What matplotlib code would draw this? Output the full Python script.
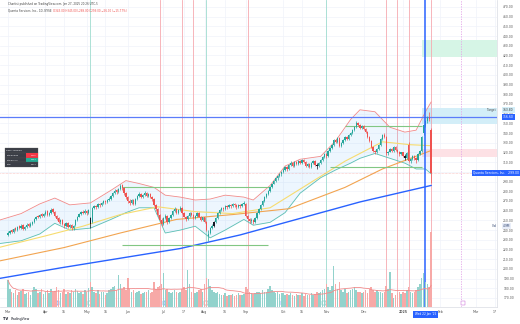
import numpy as np
import pandas as pd
import matplotlib
matplotlib.use("Agg")
import matplotlib.pyplot as plt
import matplotlib.transforms as mtransforms
from matplotlib.patches import Rectangle

# daily sessions, 1 Mar 2024 (index 0) .. 27 Jan 2025 (index 226)
opens = [
    235, 237, 240, 238, 242, 240, 244, 242, 245, 241, 243, 246, 244, 246, 248, 251, 255, 253, 257, 255,
    257, 260, 256, 258, 262, 259, 255, 252, 248, 250, 246, 244, 247, 243, 245, 242, 245, 250, 254, 257, 259, 258,
    260, 258, 252, 248, 263, 265, 264, 267, 266, 268, 270, 269, 271, 272, 275, 278, 281, 279, 282, 286, 283, 278,
    274, 270, 268, 271, 267, 272, 275, 277, 274, 276, 278, 275, 277, 274, 272, 266, 262, 256, 250,
    246, 252, 255, 248, 252, 256, 260, 262, 258, 261, 263, 258, 254, 251, 255, 258, 256, 252, 255, 258, 254, 250,
    253, 248, 234, 237, 242, 244, 248, 252, 258, 261, 263, 262, 265, 264, 266, 265, 267, 266, 264, 266, 265, 267,
    267, 255, 251, 249, 250, 248, 252, 258, 262, 266, 270, 274, 277, 280, 284, 288, 291, 294, 296, 298,
    300, 302, 305, 303, 307, 309, 306, 310, 308, 311, 309, 312, 310, 306, 308, 305, 309, 311, 307, 306, 309, 312, 315,
    318, 316, 322, 325, 328, 333, 331, 335, 327, 330, 333, 336, 334, 338, 340, 343, 346, 350, 348, 345,
    347, 344, 341, 336, 332, 326, 322, 320, 324, 328, 334, 338, 336, 319, 321, 324, 322, 326, 323, 321, 318,
    320, 316, 314, 328, 311, 313, 316, 314, 312, 318, 322, 340, 348, 352, 356, 343,
]
highs = [
    239, 240, 241, 242, 243, 244, 245, 246, 246, 244, 247, 247, 248, 249, 252, 255, 256, 257, 258, 258,
    261, 261, 259, 263, 263, 260, 256, 253, 251, 251, 247, 248, 248, 246, 246, 245, 251, 255, 258, 260, 261, 262,
    261, 262, 254, 264, 266, 266, 268, 268, 269, 271, 271, 272, 274, 276, 279, 282, 282, 283, 287, 287, 284, 279,
    275, 272, 272, 272, 273, 276, 279, 278, 277, 280, 279, 278, 278, 275, 273, 267, 263, 257, 252,
    253, 257, 256, 253, 257, 261, 264, 263, 262, 265, 264, 259, 255, 256, 259, 259, 257, 256, 259, 259, 255, 254,
    254, 249, 240, 243, 246, 249, 253, 259, 262, 264, 264, 266, 266, 267, 267, 268, 268, 267, 267, 267, 268, 270,
    268, 256, 252, 252, 251, 253, 259, 263, 267, 271, 275, 278, 281, 285, 289, 292, 295, 297, 299, 301,
    304, 306, 306, 308, 311, 310, 311, 311, 312, 312, 313, 313, 311, 309, 309, 310, 312, 312, 309, 310, 313, 316, 319,
    319, 323, 326, 329, 334, 334, 336, 336, 331, 334, 337, 337, 339, 341, 344, 347, 352, 351, 349, 348,
    348, 345, 342, 337, 333, 327, 323, 325, 329, 335, 339, 340, 337, 322, 325, 325, 327, 327, 324, 322, 321,
    321, 318, 320, 331, 314, 317, 317, 315, 319, 323, 337, 349, 354, 358, 362, 345,
]
lows = [
    234, 236, 237, 237, 239, 239, 241, 241, 240, 240, 242, 243, 243, 245, 247, 250, 252, 252, 254, 254,
    256, 255, 255, 257, 258, 254, 250, 247, 246, 245, 242, 243, 242, 242, 240, 240, 244, 249, 253, 256, 257, 257,
    256, 257, 242, 247, 262, 262, 263, 264, 265, 267, 267, 268, 270, 271, 274, 277, 277, 278, 281, 281, 276, 272,
    268, 266, 267, 266, 266, 271, 274, 273, 273, 275, 274, 274, 273, 270, 265, 260, 254, 248, 244,
    245, 251, 246, 247, 251, 255, 259, 257, 257, 260, 257, 253, 249, 250, 254, 255, 251, 251, 254, 253, 249, 249,
    247, 239, 229, 236, 241, 243, 247, 251, 257, 260, 260, 261, 262, 263, 263, 264, 264, 262, 263, 263, 264, 266,
    253, 249, 247, 247, 246, 247, 251, 257, 261, 265, 269, 273, 276, 279, 283, 287, 290, 292, 295, 296,
    299, 301, 301, 302, 306, 305, 305, 307, 307, 308, 308, 309, 305, 305, 304, 304, 308, 306, 303, 305, 308, 311, 314,
    314, 315, 321, 324, 327, 330, 330, 326, 326, 329, 332, 333, 333, 337, 339, 342, 345, 347, 344, 344,
    343, 340, 335, 331, 325, 321, 318, 319, 323, 327, 333, 335, 317, 317, 320, 320, 321, 322, 319, 316, 317,
    315, 312, 313, 310, 309, 312, 312, 309, 311, 317, 321, 338, 346, 350, 352, 289,
]
closes = [
    237, 239, 238, 241, 240, 243, 242, 244, 241, 243, 245, 244, 246, 248, 251, 254, 253, 256, 255, 257,
    259, 256, 258, 261, 259, 255, 251, 248, 250, 246, 244, 247, 243, 245, 242, 244, 250, 254, 257, 259, 258, 260,
    258, 261, 246, 263, 265, 264, 267, 266, 268, 270, 269, 271, 272, 275, 278, 280, 279, 282, 285, 283, 278, 274,
    270, 268, 271, 267, 272, 275, 277, 274, 276, 278, 275, 277, 274, 272, 266, 262, 256, 250, 246,
    252, 255, 248, 252, 256, 260, 262, 258, 261, 263, 258, 254, 251, 255, 258, 256, 252, 255, 258, 254, 250, 253,
    248, 240, 236, 242, 244, 248, 252, 258, 261, 263, 262, 265, 264, 266, 265, 267, 266, 264, 266, 265, 267, 268,
    255, 251, 249, 250, 248, 252, 258, 262, 266, 270, 274, 277, 280, 284, 288, 291, 294, 296, 298, 300,
    302, 305, 303, 307, 309, 306, 310, 308, 311, 309, 312, 310, 306, 308, 305, 309, 311, 307, 306, 309, 312, 315, 318,
    316, 322, 325, 328, 333, 331, 335, 327, 330, 333, 336, 334, 338, 340, 343, 346, 350, 348, 345, 347,
    344, 341, 336, 332, 326, 322, 320, 324, 328, 334, 338, 336, 319, 321, 324, 322, 326, 323, 321, 318, 320,
    316, 314, 319, 311, 313, 316, 314, 312, 318, 322, 336, 348, 352, 356, 355, 299,
]
# volume, millions of shares
volumes = [
    1.75, 1.2, 1.0, 0.9, 1.1, 0.8, 0.95, 1.05, 1.2, 0.85, 0.9, 1.0, 0.8, 1.1, 1.3, 1.2, 0.9, 1.0, 1.15, 0.85,
    1.0, 1.1, 0.9, 1.2, 0.95, 1.05, 1.3, 1.1, 0.9, 1.0, 1.2, 0.85, 1.0, 0.9, 1.1, 0.95, 1.2, 1.05, 0.9, 1.0, 0.85, 1.1,
    1.0, 1.25, 1.6, 1.3, 1.0, 0.9, 1.1, 0.85, 0.95, 1.0, 0.8, 0.9, 1.1, 1.2, 1.3, 1.4, 1.1, 2.1, 1.5, 1.2, 1.3, 1.1,
    1.9, 1.2, 1.0, 1.1, 0.9, 1.0, 1.05, 0.85, 0.9, 1.0, 0.95, 1.1, 0.9, 1.0, 1.6, 1.2, 1.3, 1.4, 1.5,
    2.2, 1.1, 1.2, 1.0, 0.9, 1.0, 1.1, 0.95, 0.9, 1.0, 1.2, 1.3, 1.1, 2.4, 1.5, 1.0, 1.2, 0.9, 1.0, 1.1, 1.2, 1.0,
    1.5, 1.9, 1.8, 1.4, 1.1, 1.0, 0.9, 0.95, 0.85, 0.8, 0.75, 0.9, 0.7, 0.8, 0.75, 0.85, 0.7, 0.8, 0.9, 0.75, 0.8, 0.85,
    1.3, 1.2, 1.0, 0.9, 0.85, 0.9, 0.95, 1.0, 0.9, 1.1, 1.0, 0.95, 1.2, 1.4, 1.1, 1.0, 0.9, 1.0, 0.85, 0.9,
    0.9, 0.8, 0.85, 0.75, 0.9, 0.8, 0.7, 0.85, 0.75, 0.8, 0.9, 0.7, 0.85, 0.8, 0.75, 0.9, 0.8, 0.85, 0.95, 0.9, 1.0, 1.1, 1.2,
    1.5, 1.3, 1.1, 1.4, 2.7, 1.5, 1.2, 1.6, 1.1, 1.0, 1.2, 0.9, 1.0, 1.1, 1.2, 1.3, 1.1, 1.0, 0.95, 0.9,
    1.0, 1.1, 0.9, 1.2, 1.3, 1.1, 1.0, 1.1, 0.95, 1.0, 0.9, 1.0, 1.4, 1.2, 2.3, 0.9, 0.6, 0.8, 0.9, 1.0, 0.85,
    1.0, 0.9, 1.1, 1.3, 1.0, 0.9, 1.0, 1.1, 1.3, 1.5, 1.9, 2.2, 1.6, 1.5, 1.3, 4.9,
]
black_bars = [44, 110, 165, 212]

# indicator lines as (bar index, price) points
sma200_idx = [-5, 28, 60, 92, 124, 156, 188, 226]
sma200_val = [190, 201, 211, 221, 235, 252, 269, 286]
sma_fast_idx = [-5, 20, 40, 60, 80, 100, 120, 140, 160, 180, 200, 215, 226]
sma_fast_val = [222, 234, 244, 256, 264, 259, 257, 263, 287, 311, 331, 328, 327]
sma_slow_idx = [-5, 30, 60, 90, 120, 150, 180, 200, 226]
sma_slow_val = [208, 222, 237, 251, 256, 262, 284, 303, 322]
bb_idx = [-5, 7, 17, 25, 33, 44, 55, 63, 70, 78, 84, 92, 100, 108, 116, 126, 131, 140, 148, 156,
          167, 175, 183, 188, 196, 204, 212, 218, 223, 226]
bb_upper = [250, 257, 267, 273, 266, 268, 281, 291, 288, 284, 276, 274, 271, 272, 276, 274, 271, 286, 306, 313,
            316, 332, 354, 364, 362, 346, 341, 343, 362, 372]
bb_lower = [226, 229, 236, 247, 240, 242, 251, 258, 263, 263, 237, 240, 244, 232, 240, 251, 245, 248, 258, 278,
            294, 302, 309, 314, 319, 314, 309, 303, 303, 298]

# drawings
vlines_pink = [81, 93, 99, 128, 202, 208, 214, 226]
vlines_teal = [44, 106, 170]
vline_blue = 223
vline_purple = 242
hline_blue = 356.6
green_levels = [(61, 140, 284.4), (61, 139, 224.6), (180, 221, 347.3), (172, 221, 305.0)]
zones = [(221, 436.0, 418.4, "#d6f5e6"), (221, 365.9, 349.4, "#d3eef8"), (221, 323.6, 315.3, "#fde1e5")]
div_idx = [26, 84, 147, 211]
earn_idx = [44, 106, 169]
next_earn_idx = [243]

tick_pos = [0, 20, 30, 42, 52, 64, 83, 94, 105, 116, 127, 147, 157, 170, 190, 211, 231, 250, 260]
tick_lbl = ["Mar", "Apr", "15", "May", "15", "Jun", "Jul", "17", "Aug", "16", "Sep", "Oct", "15",
            "Nov", "Dec", "2025", "Feb", "Mar", "17"]
price_ticks = list(range(170, 471, 10))

UP, DOWN = "#26a69a", "#ef5350"

o = np.array(opens, float)
h = np.array(highs, float)
l = np.array(lows, float)
c = np.array(closes, float)
v = np.array(volumes, float)
x = np.arange(len(c))

fig = plt.figure(figsize=(5.2, 3.24), dpi=100)
fig.patch.set_facecolor("white")
ax = fig.add_axes([0, 17 / 324, 497 / 520, 307 / 324])
ax.set_xlim(-4.27, 261.2)
ax.set_ylim(160.7, 477.2)

for p in price_ticks:
    ax.axhline(p, color="#f0f3fa", lw=0.5, zorder=0)
for t in tick_pos:
    ax.axvline(t, color="#f0f3fa", lw=0.5, zorder=0)

# zones on the right
for start, top, bottom, col in zones:
    ax.add_patch(Rectangle((start, bottom), 262 - start, top - bottom, facecolor=col,
                           edgecolor="none", zorder=1))

# vertical markers
for t in vlines_pink:
    ax.axvline(t, color="#f6aab0", lw=0.6, zorder=2)
for t in vlines_teal:
    ax.axvline(t, color="#9fdccf", lw=0.6, zorder=2)
ax.axvline(vline_purple, color="#e3a6e8", lw=0.6, ls=(0, (1.5, 1.5)), zorder=2)

# bollinger bands
ax.fill_between(bb_idx, bb_lower, bb_upper, color="#2196f3", alpha=0.08, lw=0, zorder=2)
ax.plot(bb_idx, bb_upper, color="#f08a8a", lw=0.6, zorder=3)
ax.plot(bb_idx, bb_lower, color="#5cbfb3", lw=0.6, zorder=3)

# moving averages
ax.plot(sma_slow_idx, sma_slow_val, color="#f2a450", lw=0.8, zorder=3)
ax.plot(sma_fast_idx, sma_fast_val, color="#f7dc6f", lw=0.8, zorder=3)
ax.plot(sma200_idx, sma200_val, color="#2962ff", lw=1.0, zorder=3)

# level lines
for a, b, lvl in green_levels:
    ax.hlines(lvl, a, b, color="#81c784", lw=0.8, zorder=3)
ax.axhline(hline_blue, color="#5b7cfa", lw=0.9, zorder=3)
ax.axhline(c[-1], color=DOWN, lw=0.4, ls=(0, (1, 1.5)), alpha=0.6, zorder=3)

# candles
cols = np.where(c >= o, UP, DOWN).astype(object)
for i in black_bars:
    cols[i] = "#131722"
body_lo = np.minimum(o, c)
body_h = np.maximum(np.abs(c - o), 0.4)
ax.vlines(x, l, h, colors=cols, lw=0.5, zorder=4)
ax.bar(x, body_h, bottom=body_lo, width=0.7, color=cols, lw=0, zorder=5)

ax.axvline(vline_blue, color="#2962ff", lw=1.1, zorder=6)

# volume on its own scale
axv = ax.twinx()
axv.set_ylim(0, 20)
axv.set_position(ax.get_position())
vcol = np.where(c >= o, "#92d2cc", "#f7a9a7")
axv.bar(x, v, width=0.8, color=vcol, lw=0)
axv.plot(x, pd.Series(v).rolling(20, min_periods=1).mean(), color="#f28b8b", lw=0.6)
axv.set_yticks([])
for s in axv.spines.values():
    s.set_visible(False)

# dividend / earnings flags along the bottom
flag_tr = mtransforms.blended_transform_factory(ax.transData, ax.transAxes)
ax.scatter(div_idx, [0.012] * len(div_idx), marker="s", s=6, transform=flag_tr,
           facecolor="#bbd6fb", edgecolor="#2962ff", lw=0.3, zorder=7, clip_on=False)
ax.scatter(earn_idx, [0.012] * len(earn_idx), marker="s", s=6, transform=flag_tr,
           facecolor="white", edgecolor="#26a69a", lw=0.3, zorder=7, clip_on=False)
ax.scatter(next_earn_idx, [0.012], marker="s", s=6, transform=flag_tr,
           facecolor="white", edgecolor="#c04fd0", lw=0.3, zorder=7, clip_on=False)

# axes styling
for s in ax.spines.values():
    s.set_visible(False)
ax.spines["right"].set_visible(True)
ax.spines["right"].set_color("#d9dce3")
ax.spines["right"].set_linewidth(0.5)
ax.spines["bottom"].set_visible(True)
ax.spines["bottom"].set_color("#d9dce3")
ax.spines["bottom"].set_linewidth(0.5)
ax.yaxis.tick_right()
# the last-price tag covers the 300 label
shown = [f"{p:.2f}" if p != 300 else "" for p in price_ticks]
ax.set_yticks(price_ticks)
ax.set_yticklabels(shown, fontsize=2.2, color="#555")
ax.set_xticks(tick_pos)
ax.set_xticklabels(tick_lbl, fontsize=2.3, color="#555")
for lbl in ax.get_xticklabels():
    if lbl.get_text() == "2025":
        lbl.set_fontweight("bold")
ax.tick_params(axis="y", length=0, pad=4.5)
ax.tick_params(axis="x", length=0, pad=2.5)

# price tags on the scale
ytr = mtransforms.blended_transform_factory(ax.transAxes, ax.transData)


def price_tag(p, text, fc, tc="white", xa=1.012, ha="left"):
    ax.text(xa, p, text, transform=ytr, fontsize=2.2, color=tc, ha=ha, va="center", zorder=10,
            bbox=dict(boxstyle="square,pad=0.35", fc=fc, ec="none"), clip_on=False)


price_tag(hline_blue, f"{hline_blue:.2f}", "#2962ff")
price_tag(c[-1], f"Quanta Services, Inc.   {c[-1]:.2f}", "#2962ff", xa=1.044, ha="right")
price_tag(363.8, "363.80", "#d3eef8", tc="#333")
ax.text(1.0, 363.8, "Target ", transform=ytr, fontsize=2.0, color="#444", ha="right", va="center", zorder=10)
price_tag(244.0, "4.9M", "#e9eef9", tc="#2a3f6b")
ax.text(1.0, 244.0, "Vol ", transform=ytr, fontsize=2.0, color="#2a3f6b", ha="right", va="center", zorder=10)

# selected date on the time axis
ax.text(vline_blue, -0.024, "Wed 22 Jan '25", transform=flag_tr, fontsize=2.1, color="white",
        ha="center", va="center", bbox=dict(boxstyle="square,pad=0.5", fc="#2962ff", ec="none"),
        clip_on=False, zorder=10)

# small summary table on the left
tb = [("Signal Summary", None, ""), ("Total Bearish", "#f23645", "1,320"),
      ("Total Bullish", "#22ab94", "1,254"), ("Total", None, "2,574")]
x0, x1, xm = 5 / 497, 38 / 497, 26 / 497
row_h = 4.8 / 307
top = (307 - 148) / 307
for k, (name, col, val) in enumerate(tb):
    yb = top - (k + 1) * row_h
    ax.add_patch(Rectangle((x0, yb), x1 - x0, row_h, transform=ax.transAxes,
                           facecolor="#3b3e47", edgecolor="#555", lw=0.2, zorder=9))
    if col:
        ax.add_patch(Rectangle((xm, yb), x1 - xm, row_h, transform=ax.transAxes,
                               facecolor=col, edgecolor="none", zorder=9))
    ax.text(x0 + 0.003, yb + row_h / 2, name, transform=ax.transAxes, fontsize=1.4,
            color="white", va="center", zorder=10)
    ax.text(x1 - 0.003, yb + row_h / 2, val, transform=ax.transAxes, fontsize=1.4,
            color="white", va="center", ha="right", zorder=10)

# header
fig.text(8 / 520, 1 - 3.5 / 324, "Chartist published on TradingView.com, Jan 27, 2025 20:26 UTC-5",
         fontsize=2.0, color="#444", va="center")
fig.text(8 / 520, 1 - 10.5 / 324, "Quanta Services, Inc., 1D, NYSE", fontsize=2.0, color="#444", va="center")
fig.text(53 / 520, 1 - 10.5 / 324,
         f"O{o[-1]:.2f} H{h[-1]:.2f} L{l[-1]:.2f} C{c[-1]:.2f} "
         f"\u2212{c[-2] - c[-1]:.2f} (\u2212{(c[-2] - c[-1]) / c[-2] * 100:.2f}%)",
         fontsize=2.0, color=DOWN, va="center")

# footer logo
fig.text(3 / 520, 5 / 324, "TV", fontsize=2.6, fontweight="bold", color="#131722", va="center")
fig.text(11 / 520, 5 / 324, "TradingView", fontsize=2.3, color="#131722", va="center")

fig.savefig("out.png", dpi=100, facecolor="white")
